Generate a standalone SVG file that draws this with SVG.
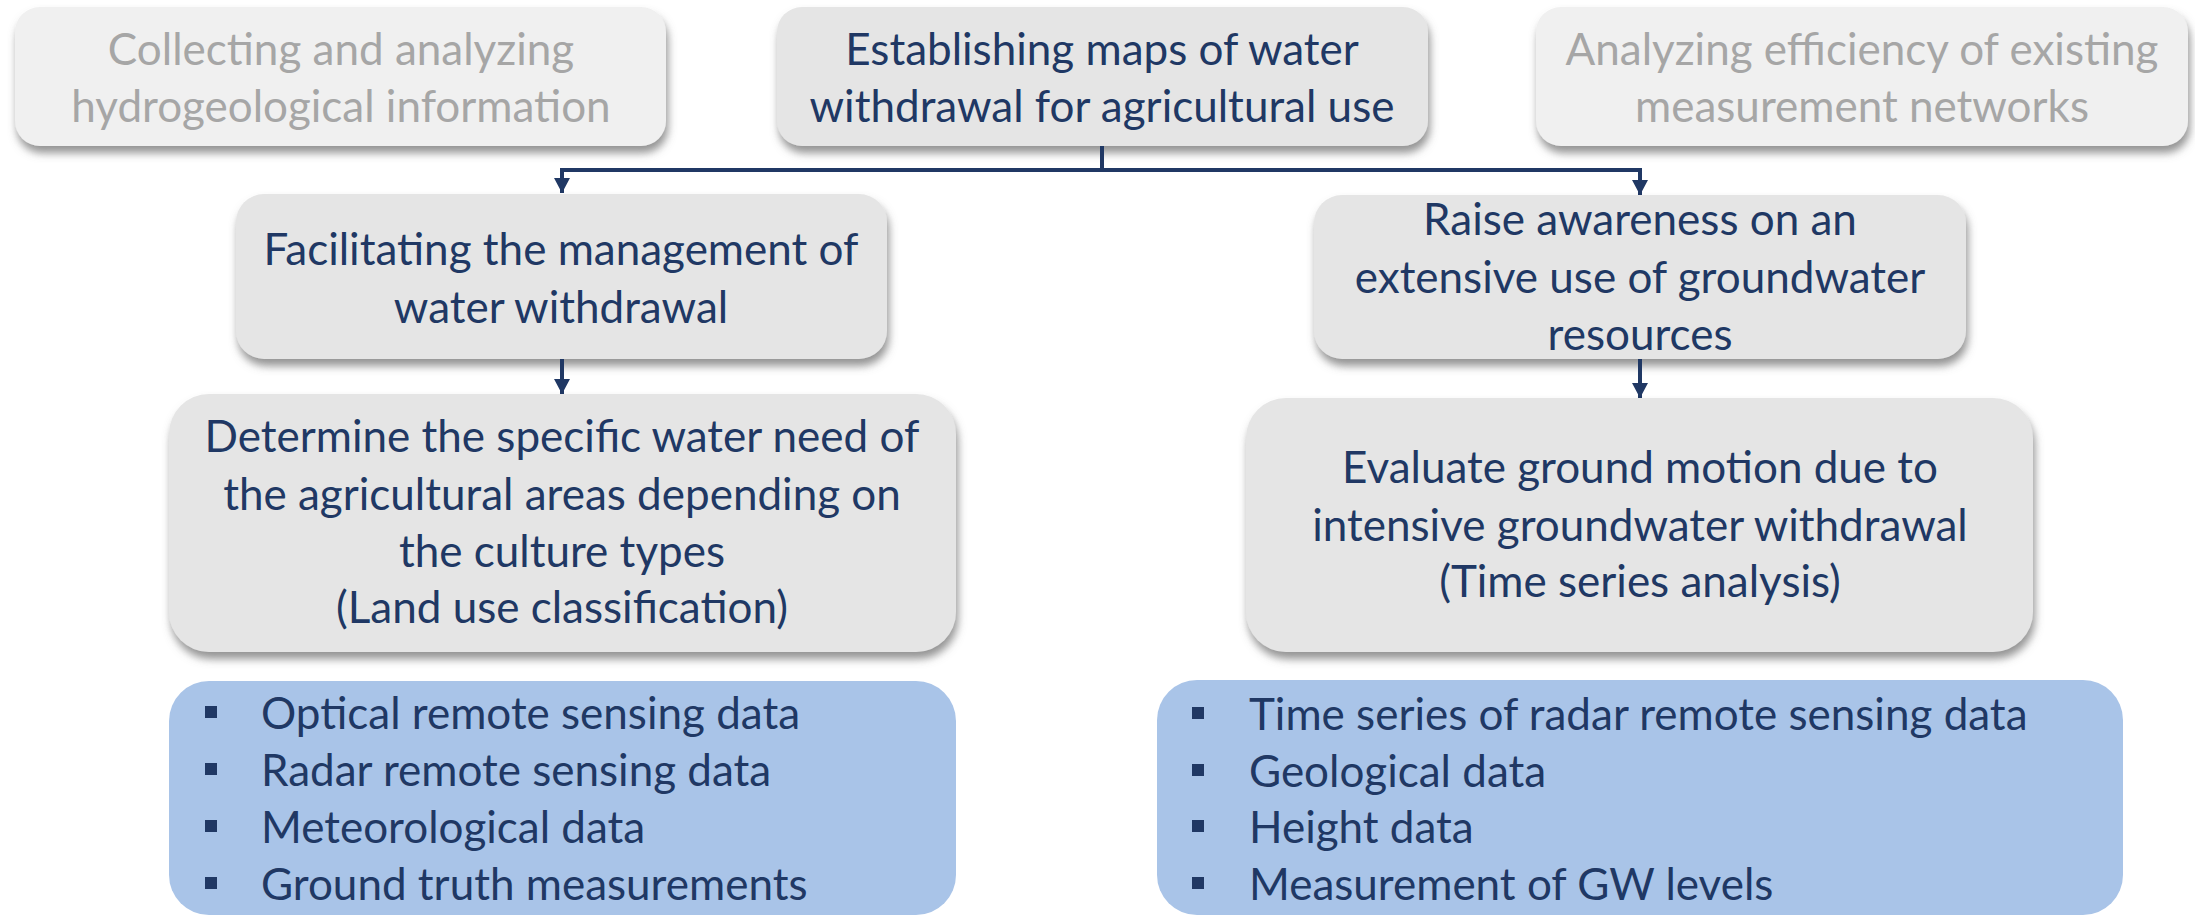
<svg xmlns="http://www.w3.org/2000/svg" width="2195" height="917" viewBox="0 0 2195 917">
  <defs>
    <filter id="shadow" x="-5%" y="-10%" width="115%" height="140%">
      <feDropShadow dx="2" dy="7" stdDeviation="4" flood-color="#6f6f6f" flood-opacity="0.75"/>
    </filter>
    <marker id="arrow" viewBox="0 0 15 16" refX="15" refY="8" markerWidth="15" markerHeight="16" markerUnits="userSpaceOnUse" orient="auto">
      <path d="M0,0 L15,8 L0,16 Z" fill="#203864"/>
    </marker>
    <style>
      .muted { fill: #f0f0f0; filter: url(#shadow); }
      .box { fill: #e5e5e5; filter: url(#shadow); }
      .data { fill: #a9c4e8; }
      text { font-family: Lato, "Liberation Sans", sans-serif; font-size: 44px; }
      .t { fill: #203864; text-anchor: middle; }
      .tm { fill: #a6a6a6; text-anchor: middle; }
      .li { fill: #203864; }
      .sq { fill: #203864; }
      .link { fill: none; stroke: #203864; stroke-width: 4; }
    </style>
  </defs>
  <rect width="2195" height="917" fill="#ffffff"/>

  <!-- top row -->
  <g id="node-collecting">
    <rect class="muted" x="15" y="7" width="651" height="139" rx="25"/>
    <text class="tm" x="341" y="65">Collecting and analyzing</text>
    <text class="tm" x="341" y="122">hydrogeological information</text>
  </g>
  <g id="node-establishing">
    <rect class="box" x="777" y="7" width="651" height="139" rx="25"/>
    <text class="t" x="1102" y="65">Establishing maps of water</text>
    <text class="t" x="1102" y="122">withdrawal for agricultural use</text>
  </g>
  <g id="node-analyzing">
    <rect class="muted" x="1536" y="7" width="652" height="139" rx="25"/>
    <text class="tm" x="1862" y="65">Analyzing efficiency of existing</text>
    <text class="tm" x="1862" y="122">measurement networks</text>
  </g>

  <!-- second row -->
  <g id="node-facilitating">
    <rect class="box" x="236" y="194" width="651" height="165" rx="28"/>
    <text class="t" x="561" y="265">Facilitating the management of</text>
    <text class="t" x="561" y="323">water withdrawal</text>
  </g>
  <g id="node-awareness">
    <rect class="box" x="1314" y="195" width="652" height="164" rx="28"/>
    <text class="t" x="1640" y="235">Raise awareness on an</text>
    <text class="t" x="1640" y="293">extensive use of groundwater</text>
    <text class="t" x="1640" y="350">resources</text>
  </g>

  <!-- third row -->
  <g id="node-determine">
    <rect class="box" x="169" y="394" width="787" height="258" rx="40"/>
    <text class="t" x="562" y="452">Determine the specific water need of</text>
    <text class="t" x="562" y="510">the agricultural areas depending on</text>
    <text class="t" x="562" y="567">the culture types</text>
    <text class="t" x="562" y="623">(Land use classification)</text>
  </g>
  <g id="node-evaluate">
    <rect class="box" x="1246" y="398" width="787" height="254" rx="40"/>
    <text class="t" x="1640" y="483">Evaluate ground motion due to</text>
    <text class="t" x="1640" y="541">intensive groundwater withdrawal</text>
    <text class="t" x="1640" y="597">(Time series analysis)</text>
  </g>

  <!-- data sources -->
  <g id="node-data-left">
    <rect class="data" x="169" y="681" width="787" height="234" rx="40"/>
    <rect class="sq" x="205" y="706" width="12" height="12"/>
    <rect class="sq" x="205" y="763" width="12" height="12"/>
    <rect class="sq" x="205" y="820" width="12" height="12"/>
    <rect class="sq" x="205" y="877" width="12" height="12"/>
    <text class="li" x="261" y="729">Optical remote sensing data</text>
    <text class="li" x="261" y="786">Radar remote sensing data</text>
    <text class="li" x="261" y="843">Meteorological data</text>
    <text class="li" x="261" y="900">Ground truth measurements</text>
  </g>
  <g id="node-data-right">
    <rect class="data" x="1157" y="680" width="966" height="235" rx="40"/>
    <rect class="sq" x="1192" y="707" width="12" height="12"/>
    <rect class="sq" x="1192" y="764" width="12" height="12"/>
    <rect class="sq" x="1192" y="820" width="12" height="12"/>
    <rect class="sq" x="1192" y="877" width="12" height="12"/>
    <text class="li" x="1249" y="730">Time series of radar remote sensing data</text>
    <text class="li" x="1249" y="787">Geological data</text>
    <text class="li" x="1249" y="843">Height data</text>
    <text class="li" x="1249" y="900">Measurement of GW levels</text>
  </g>

  <!-- connectors -->
  <g id="connectors">
    <path class="link" d="M1102,146 V170 H562 V193" marker-end="url(#arrow)"/>
    <path class="link" d="M1102,170 H1640 V195" marker-end="url(#arrow)"/>
    <path class="link" d="M562,359 V394" marker-end="url(#arrow)"/>
    <path class="link" d="M1640,359 V398" marker-end="url(#arrow)"/>
  </g>
</svg>
